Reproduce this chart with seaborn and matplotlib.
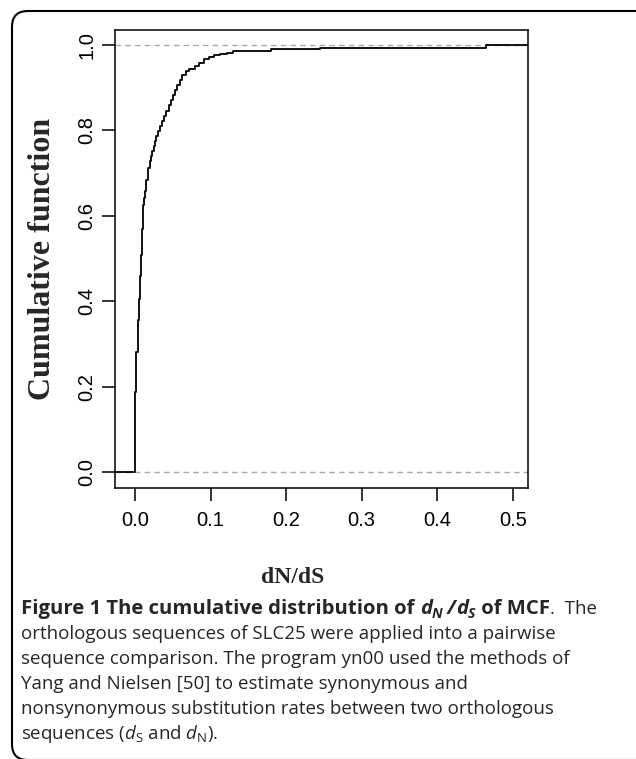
import pandas as pd
import seaborn as sns
import matplotlib.pyplot as plt
from matplotlib.patches import FancyBboxPatch

# ECDF of dN/dS (step positions and cumulative values)
step_x = [-0.05, 0.0, 0.0017, 0.0036, 0.0048, 0.0058, 0.0065, 0.0075, 0.0083,
          0.0094, 0.0103, 0.0112, 0.0125, 0.0137, 0.0150, 0.0166, 0.0192,
          0.0210, 0.0228, 0.0246, 0.0264, 0.0282, 0.030, 0.0327, 0.0354,
          0.0380, 0.0408, 0.0444, 0.0470, 0.0499, 0.0525, 0.0553, 0.0590,
          0.0625, 0.0670, 0.0715, 0.0788, 0.0850, 0.0914, 0.098, 0.104,
          0.113, 0.122, 0.129, 0.18, 0.245, 0.465, 0.60]
step_f = [0.0, 0.188, 0.28, 0.355, 0.38, 0.406, 0.46, 0.485, 0.507,
          0.57, 0.60, 0.625, 0.642, 0.657, 0.685, 0.711, 0.728,
          0.740, 0.751, 0.763, 0.775, 0.787, 0.798, 0.810, 0.822,
          0.834, 0.845, 0.859, 0.871, 0.883, 0.895, 0.906, 0.918,
          0.93, 0.938, 0.944, 0.95, 0.958, 0.967, 0.972, 0.976,
          0.979, 0.981, 0.987, 0.990, 0.993, 1.0, 1.0]
ref_levels = [0.0, 1.0]
x_ticks = [0.0, 0.1, 0.2, 0.3, 0.4, 0.5]
y_ticks = [0.0, 0.2, 0.4, 0.6, 0.8, 1.0]

sns.set_style("ticks")
plt.rcParams['font.family'] = ['Liberation Sans', 'DejaVu Sans']
plt.rcParams['mathtext.fontset'] = 'custom'
plt.rcParams['mathtext.rm'] = 'Open Sans'
plt.rcParams['mathtext.it'] = 'Open Sans:italic'

W, H = 636, 759
fig = plt.figure(figsize=(W / 100, H / 100), dpi=100)
# plot box in pixels: left 115, right 528, top 30, bottom 488
ax = fig.add_axes([115 / W, 1 - 488 / H, 413 / W, 458 / H])

df = pd.DataFrame({'dNdS': step_x, 'F': step_f})
sns.lineplot(data=df, x='dNdS', y='F', estimator=None, sort=False,
             drawstyle='steps-post', color='black', linewidth=1.3, ax=ax)
for lvl in ref_levels:
    ax.axhline(lvl, color='#aaaaaa', linewidth=1.0, dashes=(4, 3), zorder=1)

ax.set_xlim(-0.0265, 0.52)
ax.set_ylim(-0.0376, 1.0352)
ax.set_xticks(x_ticks)
ax.set_yticks(y_ticks)
ax.set_xticklabels([f"{v:.1f}" for v in x_ticks])
ax.set_yticklabels([f"{v:.1f}" for v in y_ticks], rotation=90, va='center')
ax.tick_params(length=9.5, width=1.1, labelsize=14.5, colors='black')
ax.tick_params(axis='x', pad=7)
ax.tick_params(axis='y', pad=4)
for sp in ax.spines.values():
    sp.set_linewidth(1.1)
    sp.set_color('black')

ax.set_xlabel("dN/dS", family=['Liberation Serif'], weight='bold', size=17)
ax.set_ylabel("Cumulative function", family=['Liberation Serif'],
              weight='bold', size=23)
ax.xaxis.set_label_coords(0.43, -0.172)
ax.yaxis.set_label_coords(-0.14, 0.5)

# rounded frame around the figure
frame = FancyBboxPatch((12 / W, 1 - 760 / H), 1.1, (760 - 11) / H,
                       boxstyle="round,pad=0,rounding_size=0.025",
                       transform=fig.transFigure, fill=False,
                       edgecolor='black', linewidth=1.5, mutation_aspect=W / H)
fig.patches.append(frame)

# caption
renderer = fig.canvas.get_renderer()


def run(pieces, x0, y0):
    # pieces: (text, font kwargs, downward shift in px)
    x = x0
    for txt, kw, dy in pieces:
        t = fig.text(x / W, (H - y0 - dy) / H, txt, va='baseline', ha='left',
                     family=['Open Sans'], **kw)
        x = t.get_window_extent(renderer).x1


B = dict(weight='bold', size=14.6)
BI = dict(weight='bold', style='italic', size=14.6)
BIs = dict(weight='bold', style='italic', size=10.2)
R = dict(size=13.5)
run([("Figure 1 The cumulative distribution of ", B, 0),
     ("d", BI, 0), ("N", BIs, 4), (" /", BI, 0),
     ("d", BI, 0), ("S", BIs, 4), (" of MCF", B, 0), (".  The", R, 0)],
    21, 614)
lines = ["orthologous sequences of SLC25 were applied into a pairwise",
         "sequence comparison. The program yn00 used the methods of",
         "Yang and Nielsen [50] to estimate synonymous and",
         "nonsynonymous substitution rates between two orthologous",
         r"sequences ($d_\mathrm{S}$ and $d_\mathrm{N}$)."]
for i, ln in enumerate(lines):
    fig.text(21 / W, (H - 639 - 25 * i) / H, ln, va='baseline', ha='left',
             family=['Open Sans'], size=13.5)

fig.savefig("out.png", dpi=100)
